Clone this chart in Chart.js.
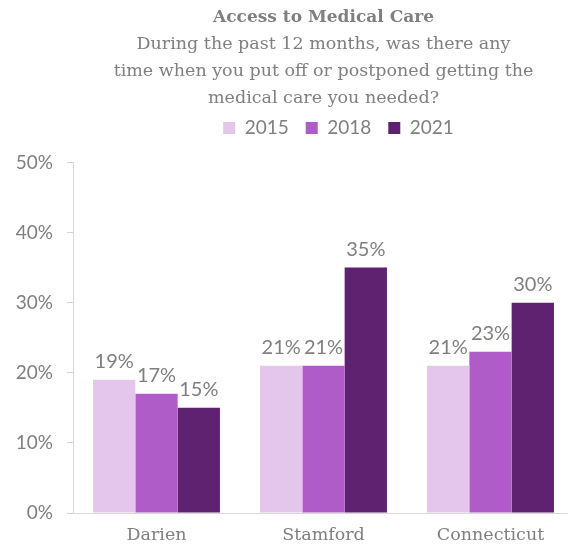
<!DOCTYPE html>
<html>
<head>
<meta charset="utf-8">
<script src="https://cdn.jsdelivr.net/npm/chart.js@4/dist/chart.umd.min.js"></script>
<style>
  html, body { margin: 0; padding: 0; background: #fff; overflow: hidden; }
  #wrap { width: 576px; height: 548px; }
</style>
</head>
<body>
<div id="wrap"><canvas id="careChart"></canvas></div>
<script>
// Survey results: delayed medical care in the past 12 months (%)
const places = ['Darien', 'Stamford', 'Connecticut'];
const years = ['2015', '2018', '2021'];
const values2015 = [19, 21, 21];
const values2018 = [17, 21, 23];
const values2021 = [15, 35, 30];
const yTicks = [0, 10, 20, 30, 40, 50];

const grey = '#7f7f7f';
const serif = 'DejaVu Serif';
const sans = 'Lato';

// Percent labels above each bar
const barLabels = {
  id: 'barLabels',
  afterDatasetsDraw(chart) {
    const ctx = chart.ctx;
    ctx.save();
    ctx.font = '20px ' + sans;
    ctx.fillStyle = grey;
    ctx.textAlign = 'center';
    ctx.textBaseline = 'alphabetic';
    chart.data.datasets.forEach((ds, i) => {
      chart.getDatasetMeta(i).data.forEach((bar, j) => {
        ctx.fillText(ds.data[j] + '%', bar.x, bar.y - 12);
      });
    });
    ctx.restore();
  }
};

// Extra space under the legend row, and nudge the row a bit to the right
const legendGap = {
  id: 'legendGap',
  beforeInit(chart) {
    const fit = chart.legend.fit;
    chart.legend.fit = function () {
      fit.call(this);
      this.height += 15;
    };
  },
  afterLayout(chart) {
    chart.legend.left += 15;
    chart.legend.right += 15;
  }
};

new Chart(document.getElementById('careChart'), {
  type: 'bar',
  data: {
    labels: places,
    datasets: [
      { label: years[0], data: values2015, backgroundColor: '#e4c6ec' },
      { label: years[1], data: values2018, backgroundColor: '#b05cc8' },
      { label: years[2], data: values2021, backgroundColor: '#5f2270' },
    ],
  },
  options: {
    responsive: true,
    maintainAspectRatio: false,
    animation: false,
    layout: { padding: { left: 0, right: 2, top: 0, bottom: 1 } },
    datasets: {
      bar: { barPercentage: 1, categoryPercentage: 0.76 },
    },
    plugins: {
      title: {
        display: true,
        fullSize: false,
        text: 'Access to Medical Care',
        color: grey,
        font: { family: serif, size: 17, weight: 'bold' },
        padding: { top: 7, bottom: 4 },
      },
      subtitle: {
        display: true,
        fullSize: false,
        text: [
          'During the past 12 months, was there any',
          'time when you put off or postponed getting the',
          'medical care you needed?',
        ],
        color: grey,
        font: { family: serif, size: 17.5, lineHeight: '27px' },
        padding: { top: 0, bottom: -11 },
      },
      legend: {
        display: true,
        fullSize: false,
        position: 'top',
        labels: {
          color: grey,
          font: { family: sans, size: 19 },
          boxWidth: 12,
          boxHeight: 12,
          padding: 17,
        },
      },
      tooltip: { enabled: false },
    },
    scales: {
      x: {
        afterFit(axis) {
          axis.height = 34;
        },
        grid: { display: false, drawTicks: false },
        border: { display: true, color: '#d9d9d9' },
        ticks: { color: grey, font: { family: serif, size: 17.5 }, padding: 12 },
      },
      y: {
        min: 0,
        max: 50,
        afterBuildTicks(axis) {
          axis.ticks = yTicks.map(v => ({ value: v }));
        },
        afterFit(axis) {
          axis.width = 73;
        },
        grid: { drawOnChartArea: false, drawTicks: true, tickLength: 6, color: '#d4d4d4' },
        border: { display: true, color: '#d9d9d9' },
        ticks: {
          color: grey,
          font: { family: sans, size: 19 },
          padding: 14,
          callback: v => v + '%',
        },
      },
    },
  },
  plugins: [barLabels, legendGap],
});
</script>
</body>
</html>
